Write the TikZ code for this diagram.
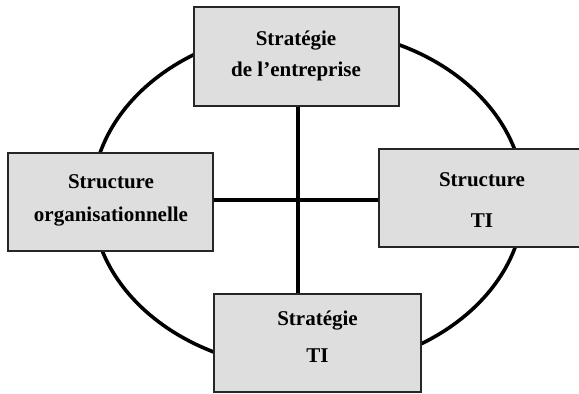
\documentclass[tikz,border=0pt]{standalone}
\usepackage{fontspec}
\setmainfont{Liberation Serif}
\begin{document}
\begin{tikzpicture}[x=1pt,y=-1pt,
  panel/.style={draw=black!85, line width=1.4pt, fill=black!13, inner sep=0pt},
  label/.style={anchor=base, inner sep=0pt, font=\fontsize{21}{25}\selectfont\bfseries},
  ring/.style={line width=3.6pt},
  link/.style={line width=4pt}]
  \useasboundingbox (0,0) rectangle (579,394);
  % outer ring behind the four panels
  \draw[ring] (308,199) ellipse [x radius=216, y radius=170];
  % panels
  \node[panel, minimum width=205pt, minimum height=99pt] (top) at (296.5,56.5) {};
  \node[panel, minimum width=205pt, minimum height=98pt] (left) at (110.5,202) {};
  \node[panel, minimum width=206pt, minimum height=98pt] (right) at (482,198) {};
  \node[panel, minimum width=207pt, minimum height=98pt] (bottom) at (317.5,343) {};
  % captions
  \node[label] at (296,45) {Stratégie};
  \node[label] at (296,76) {de l’entreprise};
  \node[label] at (111,188) {Structure};
  \node[label] at (111,221) {organisationnelle};
  \node[label] at (482,186) {Structure};
  \node[label] at (482,227) {TI};
  \node[label] at (317.5,325) {Stratégie};
  \node[label] at (317.5,362) {TI};
  % central cross
  \draw[link] ([xshift=1.5pt]top.south) -- ([xshift=1.5pt]top.south |- bottom.north);
  \draw[link] ([yshift=2pt]left.east) -- ([yshift=2pt]left.east -| right.west);
\end{tikzpicture}
\end{document}
